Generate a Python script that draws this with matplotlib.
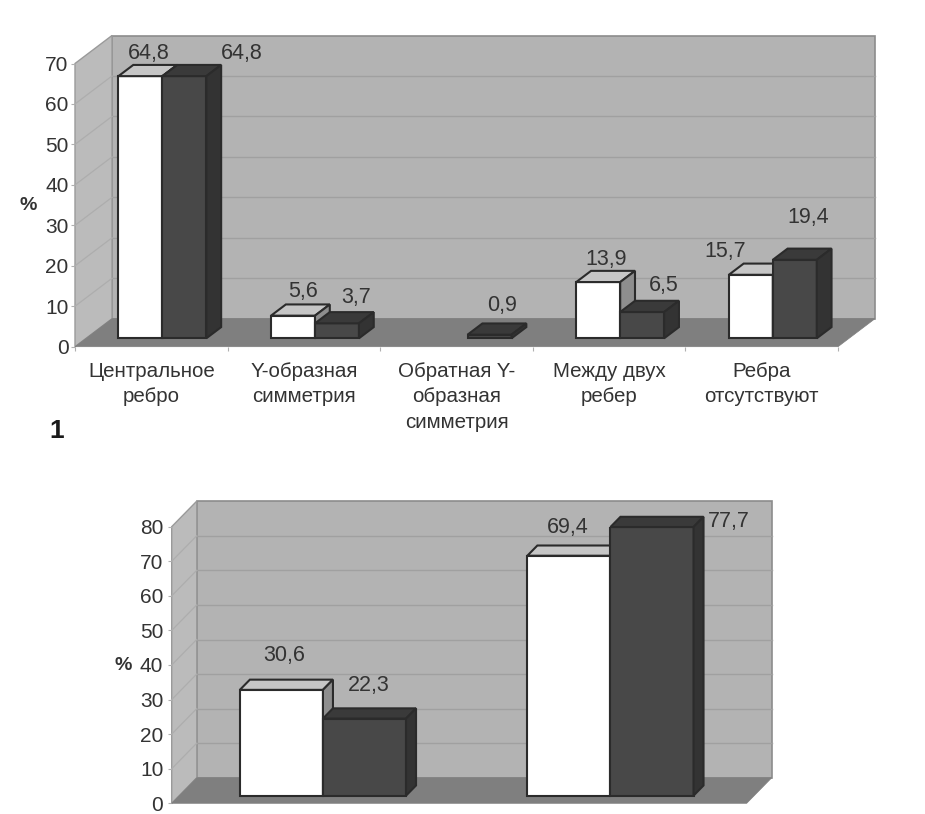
import matplotlib
matplotlib.use('Agg')
import matplotlib.pyplot as plt

plt.rcParams['font.family'] = ['Liberation Sans', 'DejaVu Sans']

W, H = 925, 814

categories1 = ['Центральное\nребро', 'Y-образная\nсимметрия', 'Обратная Y-\nобразная\nсимметрия',
               'Между двух\nребер', 'Ребра\nотсутствуют']
white1 = [64.8, 5.6, 0, 13.9, 15.7]
dark1 = [64.8, 3.7, 0.9, 6.5, 19.4]
labels1 = [['64,8', '5,6', '', '13,9', '15,7'], ['64,8', '3,7', '0,9', '6,5', '19,4']]

white2 = [30.6, 69.4]
dark2 = [22.3, 77.7]
labels2 = [['30,6', '69,4'], ['22,3', '77,7']]

# where the value labels sit on the page, in pixels
label_pos1 = [[(149, 53), (303, 292), None, (606, 259), (725, 252)],
              [(242, 54), (356, 298), (502, 305), (664, 286), (808, 217)]]
label_pos2 = [[(284, 656), (568, 527)], [(369, 686), (729, 522)]]

WALL = '#b3b3b3'
SIDE = '#bbbbbb'
FLOOR = '#7f7f7f'
GRID = '#a0a0a0'
EDGE = '#2b2b2b'
TXT = '#333333'

fig = plt.figure(figsize=(W / 100, H / 100), dpi=100)


def page_text(x, y, s, color=TXT, **kw):
    fig.text(x / W, 1 - y / H, s, ha='center', va='center', color=color, **kw)


def box(ax, x, v, w, base, ddx, ddy, front, top, side):
    # front by the axes, top and side as polygons behind the front edge
    ax.bar(x, v, w, bottom=base, align='edge', color=front, edgecolor=EDGE, linewidth=1.5, zorder=5)
    ax.fill([x, x + ddx, x + w + ddx, x + w], [base + v, base + v + ddy, base + v + ddy, base + v],
            facecolor=top, edgecolor=EDGE, linewidth=1.5, zorder=5, clip_on=False)
    ax.fill([x + w, x + w + ddx, x + w + ddx, x + w], [base, base + ddy, base + v + ddy, base + v],
            facecolor=side, edgecolor=EDGE, linewidth=1.5, zorder=5, clip_on=False)


def chart(left, right, top, bottom, dx, dy, ymax, whites, darks, names, texts, spots, barw, ypad):
    n = len(whites)
    ax = fig.add_axes([left / W, 1 - bottom / H, (right - left) / W, (bottom - top) / H])
    ax.set_xlim(0, n)
    ax.set_ylim(0, ymax)
    ax.patch.set_visible(False)
    for s in ax.spines.values():
        s.set_visible(False)

    cat_px = (right - left) / n
    val_px = (bottom - top) / ymax
    off_x = dx / cat_px
    off_y = dy / val_px

    # walls and floor
    ax.fill([off_x, n + off_x, n + off_x, off_x], [off_y, off_y, ymax + off_y, ymax + off_y],
            facecolor=WALL, edgecolor='#8c8c8c', linewidth=1.2, zorder=1, clip_on=False)
    ax.fill([0, off_x, off_x, 0], [0, off_y, ymax + off_y, ymax],
            facecolor=SIDE, edgecolor='#9a9a9a', linewidth=1.0, zorder=1, clip_on=False)
    for v in range(10, ymax, 10):
        ax.plot([off_x, n + off_x], [v + off_y, v + off_y], color=GRID, lw=1.0, zorder=2, clip_on=False)
        ax.plot([0, off_x], [v, v + off_y], color='#adadad', lw=0.9, zorder=2, clip_on=False)
    ax.fill([0, n, n + off_x, off_x], [0, 0, off_y, off_y], facecolor=FLOOR, edgecolor=FLOOR,
            linewidth=0.5, zorder=3, clip_on=False)

    # bars sit 0.3 of the way into the depth and take 0.4 of it
    base = 0.3 * off_y
    for i in range(n):
        c = i + 0.5 + 0.3 * off_x
        if whites[i] > 0:
            box(ax, c - barw, whites[i], barw, base, 0.4 * off_x, 0.4 * off_y, 'white', '#c6c6c6', '#8e8e8e')
        box(ax, c, darks[i], barw, base, 0.4 * off_x, 0.4 * off_y, '#484848', '#3a3a3a', '#333333')

    ax.set_yticks(range(0, ymax + 1, 10))
    ax.tick_params(axis='y', length=3, width=0.8, color='#b0b0b0', labelsize=15, labelcolor=TXT, pad=ypad)
    ax.set_xticks([i + 0.5 for i in range(n)])
    if names:
        ax.set_xticklabels(names, fontsize=14.8, color=TXT, linespacing=1.42)
        ax.set_xticks(range(n + 1), minor=True)
        ax.tick_params(axis='x', which='minor', length=3, width=0.8, color='#b0b0b0')
    else:
        ax.set_xticklabels([])
    ax.tick_params(axis='x', which='major', length=0, pad=11)

    for k in range(2):
        for t, p in zip(texts[k], spots[k]):
            if p:
                page_text(p[0], p[1], t, fontsize=15.5)


chart(75, 838, 63.5, 346.7, 37, 28, 70, white1, dark1, categories1, labels1, label_pos1, 0.288, 1.5)
chart(171.7, 746.7, 526.7, 803.3, 25, 25.5, 80, white2, dark2, None, labels2, label_pos2, 0.289, 3)

page_text(28, 205, '%', fontsize=14, fontweight='bold')
page_text(123, 665, '%', fontsize=14, fontweight='bold')
page_text(57, 431, '1', color='#1a1a1a', fontsize=19, fontweight='bold')

fig.savefig('out.png', dpi=100)
